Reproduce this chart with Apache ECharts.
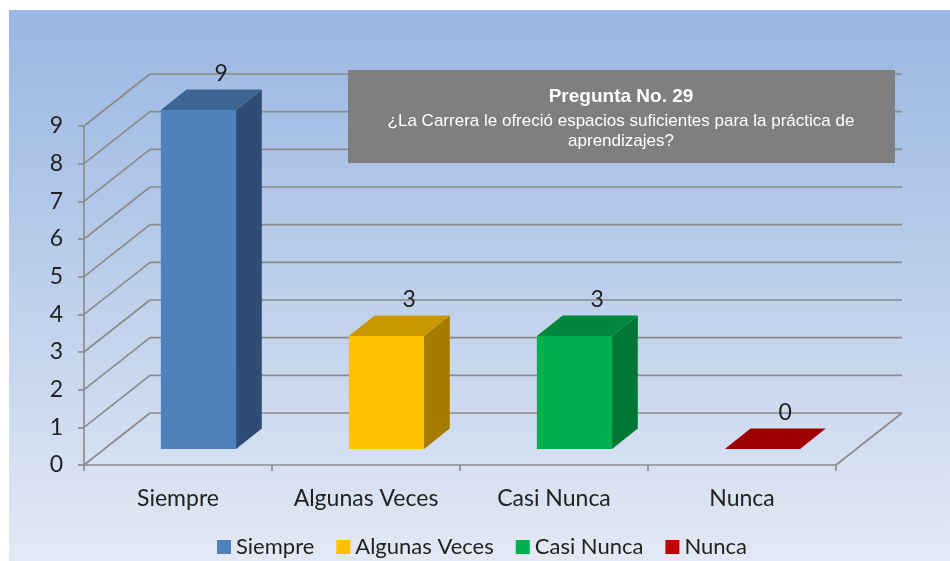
<!DOCTYPE html>
<html>
<head>
<meta charset="utf-8">
<script src="https://cdn.jsdelivr.net/npm/echarts@6/dist/echarts.min.js"></script>
<style>
  html, body { margin: 0; padding: 0; background: #fff; }
  #chart { width: 950px; height: 561px; }
</style>
</head>
<body>
<div id="chart"></div>
<script>
// datos
var categories = ['Siempre', 'Algunas Veces', 'Casi Nunca', 'Nunca'];
var values = [9, 3, 3, 0];
var yTicks = [0, 1, 2, 3, 4, 5, 6, 7, 8, 9];
var titleText = 'Pregunta No. 29';
var subtitleLines = ['¿La Carrera le ofreció espacios suficientes para la práctica de', 'aprendizajes?'];

// colores de caras (frente, arriba, lado)
var faceColors = [
  { front: '#4f81bd', top: '#3d6593', side: '#2f4d74' },
  { front: '#ffc000', top: '#c99700', side: '#a67c00' },
  { front: '#00b050', top: '#00873d', side: '#007634' },
  { front: '#c00000', top: '#9e0000', side: '#800000' }
];

var DX = 66, DY = -52;     // profundidad del "3D"
var F1 = 0.31, F2 = 0.70;  // posicion de la barra en la profundidad
var gridColor = '#8a8a8a';
var font = 'Lato';

var chart = echarts.init(document.getElementById('chart'));

/* paredes y lineas de fondo */
function renderWall(params, api) {
  var lvl = api.value(1);
  var cs = params.coordSys;
  var x0 = cs.x, x1 = cs.x + cs.width;
  var y = api.coord([0, lvl])[1];
  var st = { stroke: gridColor, lineWidth: 1.6, fill: null };
  var children = [
    { type: 'line', shape: { x1: x0, y1: y, x2: x0 + DX, y2: y + DY }, style: st },
    { type: 'line', shape: { x1: x0 + DX, y1: y + DY, x2: x1 + DX, y2: y + DY }, style: st }
  ];
  if (lvl === 0) {
    children.push({ type: 'line', shape: { x1: x1, y1: y, x2: x1 + DX, y2: y + DY }, style: st });
  }
  return { type: 'group', children: children };
}

/* barras 3D */
function makeBarRenderer(idx) {
  var c = faceColors[idx];
  return function (params, api) {
    var i = api.value(0), v = api.value(1);
    var base = api.coord([i, 0]);
    var topP = api.coord([i, v]);
    var band = api.size([1, 0])[0];
    var w = band * 0.4;
    var xl = base[0] - w / 2 + DX * F1, xr = xl + w;
    var yb = base[1] + DY * F1, yt = topP[1] + DY * F1;
    var ddx = DX * (F2 - F1), ddy = DY * (F2 - F1);
    var children = [];
    if (yb - yt > 0.5) {
      children.push({ type: 'rect', shape: { x: xl, y: yt, width: w, height: yb - yt }, style: { fill: c.front } });
      children.push({ type: 'polygon', shape: { points: [[xr, yt], [xr + ddx, yt + ddy], [xr + ddx, yb + ddy], [xr, yb]] }, style: { fill: c.side } });
    }
    children.push({ type: 'polygon', shape: { points: [[xl, yt], [xr, yt], [xr + ddx, yt + ddy], [xl + ddx, yt + ddy]] }, style: { fill: c.top } });
    children.push({
      type: 'text',
      style: {
        text: String(v), x: xl + w / 2 + ddx - 3, y: yt + ddy - 16,
        align: 'center', verticalAlign: 'middle',
        font: '23px ' + font, fill: '#222'
      }
    });
    return { type: 'group', children: children };
  };
}

var series = [{
  type: 'custom',
  name: 'walls',
  renderItem: renderWall,
  data: yTicks.map(function (t) { return [0, t]; }),
  clip: false,
  silent: true,
  z: 1
}];
categories.forEach(function (cat, idx) {
  series.push({
    type: 'custom',
    name: cat,
    renderItem: makeBarRenderer(idx),
    data: [[idx, values[idx]]],
    itemStyle: { color: faceColors[idx].front },
    clip: false,
    z: 3
  });
});

var option = {
  animation: false,
  backgroundColor: '#ffffff',
  graphic: [
    {
      type: 'rect', z: -10, silent: true,
      shape: { x: 9, y: 10, width: 941, height: 551 },
      style: {
        fill: new echarts.graphic.LinearGradient(0, 0, 0, 1, [
          { offset: 0, color: '#9ab6e2' },
          { offset: 0.5, color: '#bccfeb' },
          { offset: 1, color: '#e3e9f4' }
        ])
      }
    },
    {
      type: 'rect', z: 100,
      shape: { x: 348, y: 70, width: 547, height: 93 },
      style: { fill: '#7f7f7f' }
    },
    {
      type: 'text', z: 101,
      style: { text: titleText, x: 621, y: 97, align: 'center', verticalAlign: 'middle',
        font: 'bold 19px "Liberation Sans"', fill: '#fff' }
    },
    {
      type: 'text', z: 101,
      style: { text: subtitleLines[0], x: 621, y: 121, align: 'center', verticalAlign: 'middle',
        font: '17px "Liberation Sans"', fill: '#fff' }
    },
    {
      type: 'text', z: 101,
      style: { text: subtitleLines[1], x: 621, y: 141, align: 'center', verticalAlign: 'middle',
        font: '17px "Liberation Sans"', fill: '#fff' }
    }
  ],
  legend: {
    data: categories,
    left: 212,
    top: 531,
    icon: 'rect',
    itemWidth: 14,
    itemHeight: 14,
    itemGap: 22,
    textStyle: { fontFamily: font, fontSize: 22, color: '#222' }
  },
  grid: { left: 84, right: 114, top: 126, bottom: 96, containLabel: false },
  xAxis: {
    type: 'category',
    data: categories,
    axisLine: { lineStyle: { color: gridColor, width: 1.6 } },
    axisTick: { show: true, length: 6, interval: 0, lineStyle: { color: gridColor, width: 1.6 } },
    axisLabel: { fontFamily: font, fontSize: 23, color: '#222', margin: 22, interval: 0 },
    splitLine: { show: false }
  },
  yAxis: {
    type: 'value',
    min: 0,
    max: 9,
    interval: 1,
    axisLine: { show: true, lineStyle: { color: gridColor, width: 1.6 } },
    axisTick: { show: true, length: 6, lineStyle: { color: gridColor, width: 1.6 } },
    axisLabel: { fontFamily: font, fontSize: 23, color: '#222', margin: 21 },
    splitLine: { show: false }
  },
  series: series
};

chart.setOption(option);
</script>
</body>
</html>
